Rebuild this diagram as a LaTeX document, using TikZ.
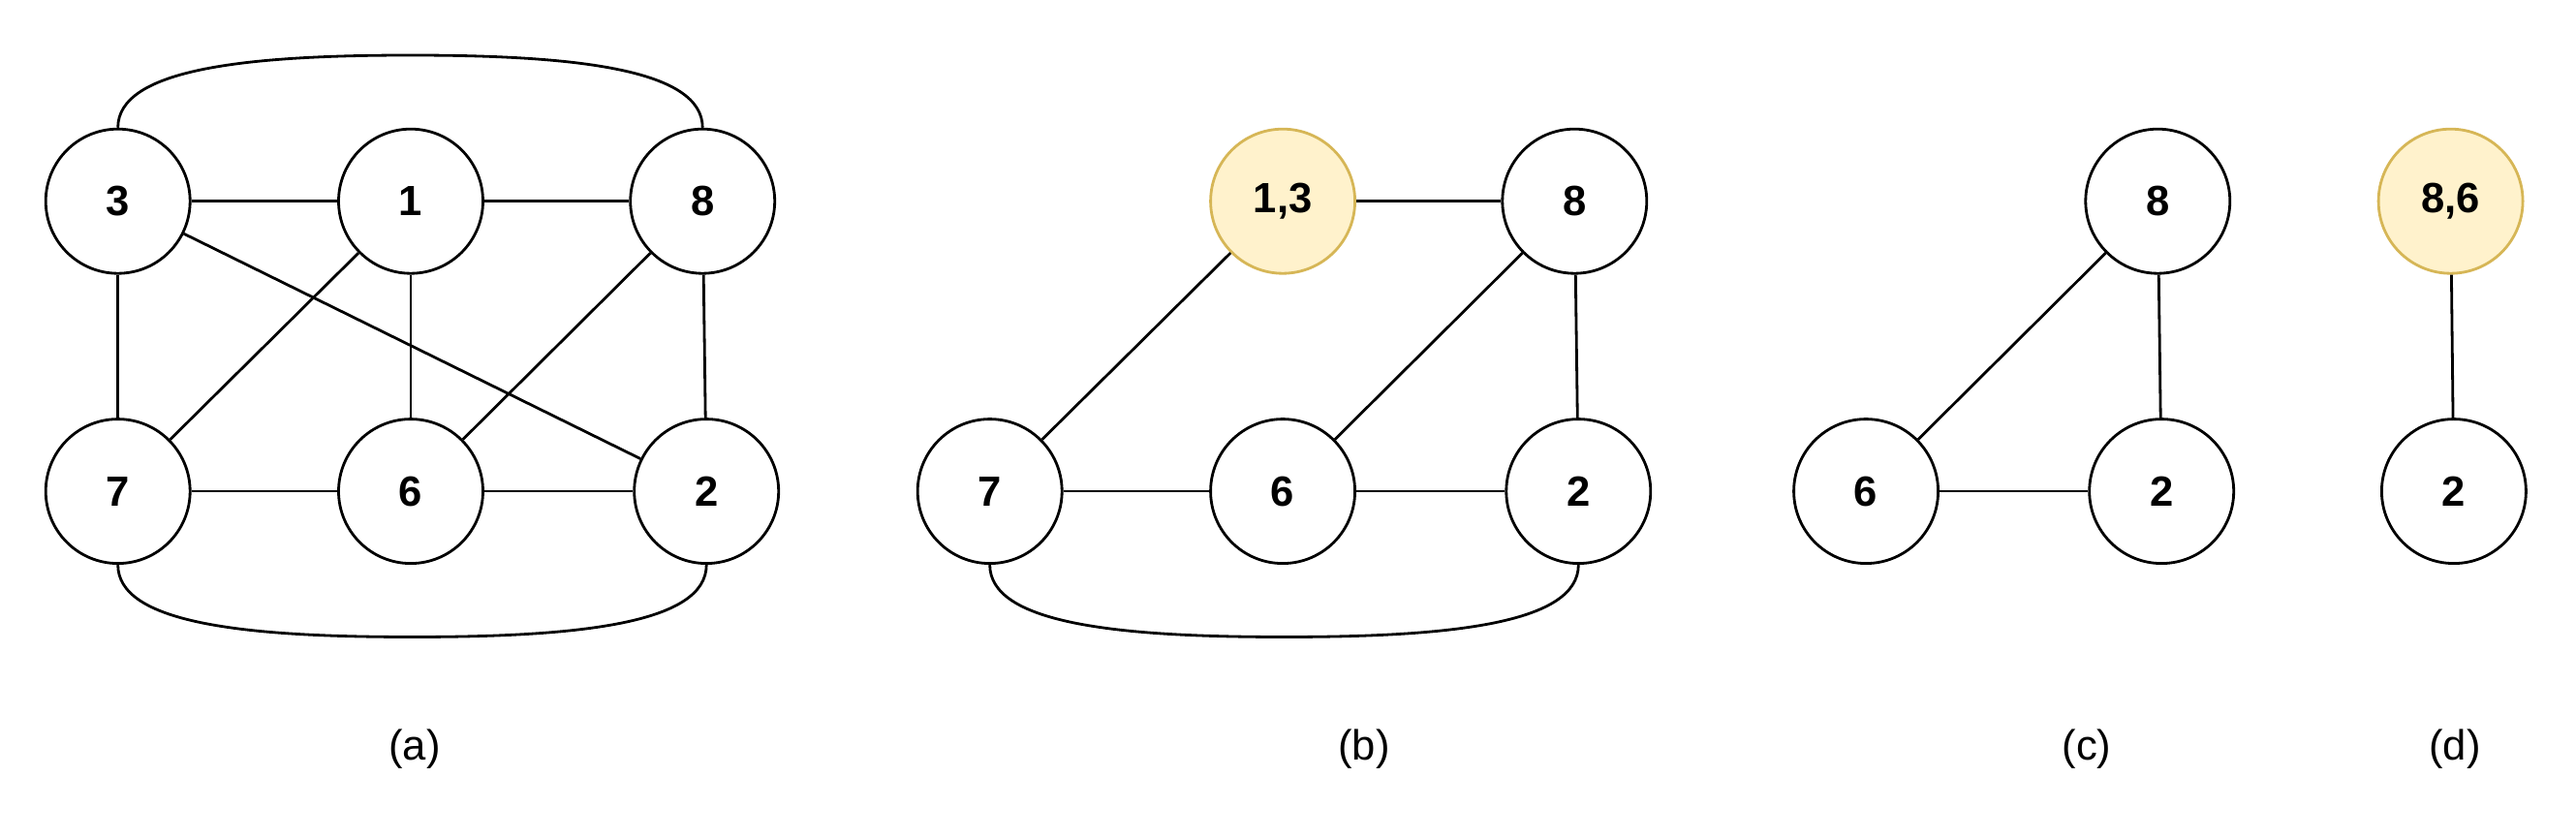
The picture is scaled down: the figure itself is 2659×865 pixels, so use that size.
\documentclass[tikz,border=0pt]{standalone}
\usepackage{fontspec}
\setmainfont{Liberation Sans}

\begin{document}
\begin{tikzpicture}[x=0.25pt,y=0.25pt,yscale=-1,xscale=1,
  vtx/.style={circle,draw=black,line width=0.7pt,fill=white,minimum size=37.25pt,inner sep=0pt,font=\fontsize{10.9}{13}\selectfont\bfseries},
  merged/.style={vtx,draw={rgb,255:red,214;green,182;blue,86},fill={rgb,255:red,255;green,242;blue,204}},
  edge/.style={line width=0.7pt},
  sublabel/.style={inner sep=0pt,font=\fontsize{10.9}{13}\selectfont}]
\useasboundingbox (0,0) rectangle (2659,865);

%Graph (a)
\node [vtx] (a3) at (121.7,207.7) {3};
\node [vtx] (a1) at (424,207.7) {1};
\node [vtx] (a8) at (725.2,207.7) {8};
\node [vtx] (a7) at (121.7,507.1) {7};
\node [vtx] (a6) at (424,507.1) {6};
\node [vtx] (a2) at (729.2,507.1) {2};
\coordinate (atop) at (423.5,57);
\coordinate (abot) at (425.5,657.5);
%Straight Lines
\draw [edge] (a3) -- (a1);
\draw [edge] (a1) -- (a8);
\draw [edge] (a3) -- (a7);
\draw [edge] (a1) -- (a6);
\draw [edge] (a8) -- (a2);
\draw [edge] (a7) -- (a6);
\draw [edge] (a6) -- (a2);
\draw [edge] (a1) -- (a7);
\draw [edge] (a8) -- (a6);
\draw [edge] (a3) -- (a2);
%Curves
\draw [edge] (a3.north) .. controls (121.7,72) and (250,57) .. (atop) .. controls (597,57) and (725.2,72) .. (a8.north);
\draw [edge] (a7.south) .. controls (121.7,643) and (250,657.5) .. (abot) .. controls (601,657.5) and (729.2,643) .. (a2.south);
% Text Node
\node [sublabel] (la) at (428,773) {(a)};

%Graph (b)
\node [merged] (b13) at (1324.1,207.7) {1,3};
\node [vtx] (b8) at (1625.3,207.7) {8};
\node [vtx] (b7) at (1021.7,507.1) {7};
\node [vtx] (b6) at (1324.1,507.1) {6};
\node [vtx] (b2) at (1629.3,507.1) {2};
\coordinate (bbot) at (1325.5,657.5);
%Straight Lines
\draw [edge] (b13) -- (b8);
\draw [edge] (b13) -- (b7);
\draw [edge] (b8) -- (b6);
\draw [edge] (b8) -- (b2);
\draw [edge] (b7) -- (b6);
\draw [edge] (b6) -- (b2);
%Curves
\draw [edge] (b7.south) .. controls (1021.7,643) and (1150,657.5) .. (bbot) .. controls (1501,657.5) and (1629.3,643) .. (b2.south);
% Text Node
\node [sublabel] (lb) at (1408,773) {(b)};

%Graph (c)
\node [vtx] (c8) at (2227.3,207.7) {8};
\node [vtx] (c6) at (1926.1,507.1) {6};
\node [vtx] (c2) at (2231.2,507.1) {2};
%Straight Lines
\draw [edge] (c8) -- (c6);
\draw [edge] (c8) -- (c2);
\draw [edge] (c6) -- (c2);
% Text Node
\node [sublabel] (lc) at (2154,773) {(c)};

%Graph (d)
\node [merged] (d86) at (2529.6,207.7) {8,6};
\node [vtx] (d2) at (2532.9,507.1) {2};
%Straight Lines
\draw [edge] (d86) -- (d2);
% Text Node
\node [sublabel] (ld) at (2534,773) {(d)};

\end{tikzpicture}
\end{document}
